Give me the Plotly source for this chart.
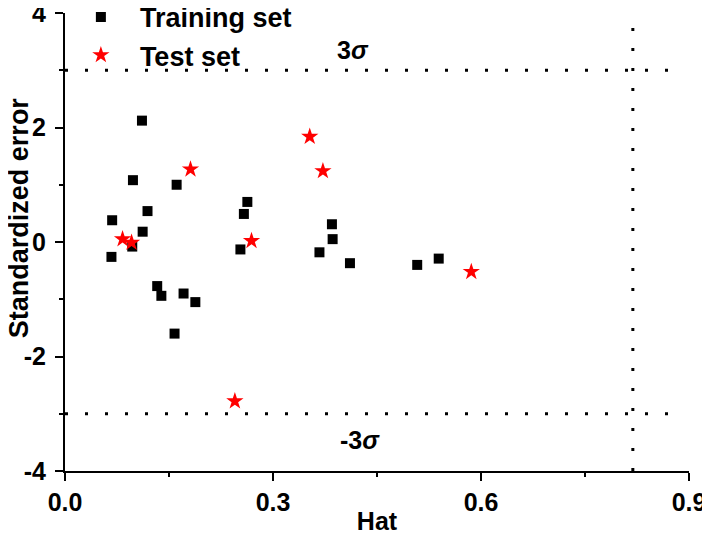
import plotly.graph_objects as go

# Training set (hat value, standardized error)
train_hat = [0.068, 0.067, 0.097, 0.098, 0.111, 0.119, 0.112, 0.161, 0.253, 0.258,
             0.263, 0.367, 0.385, 0.386, 0.411, 0.508, 0.539, 0.133, 0.139, 0.171,
             0.188, 0.158]
train_err = [0.38, -0.26, -0.08, 1.08, 2.12, 0.54, 0.18, 1.00, -0.13, 0.49,
             0.70, -0.18, 0.31, 0.05, -0.37, -0.40, -0.29, -0.77, -0.94, -0.90,
             -1.05, -1.60]

# Test set
test_hat = [0.083, 0.096, 0.181, 0.269, 0.353, 0.372, 0.586, 0.245]
test_err = [0.05, -0.01, 1.27, 0.02, 1.84, 1.24, -0.52, -2.78]

# limits: +/- 3 sigma and the warning leverage h*
sigma_limit = 3
h_star = 0.819
hat_end = 0.885

x_ticks = [0.0, 0.3, 0.6, 0.9]
x_labels = ["0.0", "0.3", "0.6", "0.9"]
y_ticks = [-4, -2, 0, 2, 4]
y_labels = ["-4", "-2", "0", "2", "4"]

font = dict(family="Liberation Sans, Arial", color="black", size=25, weight="bold")
dots = dict(color="black", width=3, dash="3px,17px")

fig = go.Figure()

fig.add_trace(go.Scatter(x=train_hat, y=train_err, mode="markers", name="Training set",
                         marker=dict(symbol="square", size=10, color="black")))
fig.add_trace(go.Scatter(x=test_hat, y=test_err, mode="markers", name="Test set",
                         marker=dict(symbol="star", size=13, color="red", line=dict(width=0))))

# dotted limit lines
fig.add_trace(go.Scatter(x=[0, hat_end], y=[sigma_limit, sigma_limit], mode="lines",
                         line=dots, showlegend=False, hoverinfo="skip"))
fig.add_trace(go.Scatter(x=[0, hat_end], y=[-sigma_limit, -sigma_limit], mode="lines",
                         line=dots, showlegend=False, hoverinfo="skip"))
fig.add_trace(go.Scatter(x=[h_star, h_star], y=[-4, 4], mode="lines",
                         line=dots, showlegend=False, hoverinfo="skip"))

fig.add_annotation(x=0.415, y=3.35, text="3<i>σ</i>", showarrow=False, font=font)
fig.add_annotation(x=0.425, y=-3.46, text="-3<i>σ</i>", showarrow=False, font=font)

# y title placed a bit above the axis centre, like the original
fig.add_annotation(xref="paper", yref="paper", x=0, y=0.552, xshift=-46,
                   text="Standardized error", textangle=-90, showarrow=False,
                   xanchor="center", yanchor="middle", font=dict(font, size=27))

axis_common = dict(showline=True, linewidth=2, linecolor="black", showgrid=False,
                   zeroline=False, ticks="outside", ticklen=8, tickwidth=2,
                   tickcolor="black", tickfont=font, automargin=False,
                   ticklabeloverflow="allow")

# page body keeps an 8px margin; keep the figure inside the window so nothing scrolls
fig.update_layout(
    width=702,
    height=527,
    margin=dict(l=57, r=21, t=5, b=64, autoexpand=False),
    plot_bgcolor="white",
    paper_bgcolor="white",
    font=font,
    xaxis=dict(axis_common, range=[0, 0.9], tickmode="array", tickvals=x_ticks,
               ticktext=x_labels,
               minor=dict(dtick=0.15, ticks="outside", ticklen=4, tickwidth=2, tickcolor="black"),
               title=dict(text="Hat", font=font, standoff=7)),
    yaxis=dict(axis_common, range=[-4, 4], tickmode="array", tickvals=y_ticks,
               ticktext=y_labels, ticklabelstandoff=4,
               minor=dict(dtick=1, ticks="outside", ticklen=4, tickwidth=2, tickcolor="black")),
    legend=dict(x=-0.005, y=1.044, xanchor="left", yanchor="top", bgcolor="rgba(0,0,0,0)",
                font=dict(font, size=27), itemwidth=68),
    showlegend=True,
)

fig.write_html("out.html")
